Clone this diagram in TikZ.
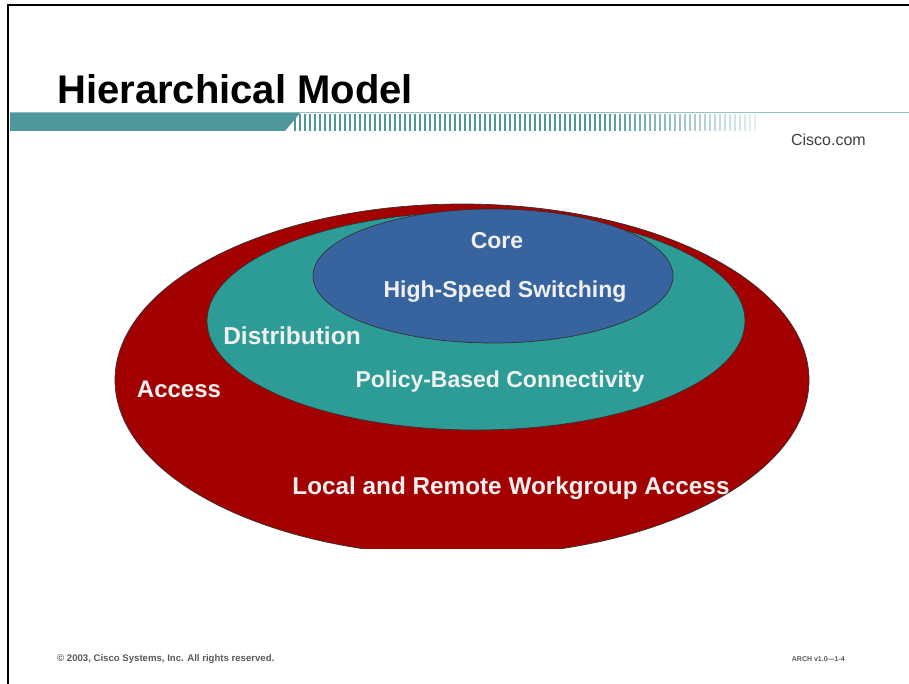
\documentclass[tikz,border=0pt]{standalone}
\usepackage{fontspec}
\setmainfont{Liberation Sans}
\usetikzlibrary{shapes}

\definecolor{accessred}{HTML}{A30000}
\definecolor{distteal}{HTML}{2E9C96}
\definecolor{corebblue}{HTML}{37649F}
\definecolor{barteal}{HTML}{4E989C}

\begin{document}
\begin{tikzpicture}[x=1pt,y=-1pt,
    layer/.style={draw=black!80,line width=0.7pt},
    lbl/.style={text=white!94!black,font=\bfseries\fontsize{23}{26}\selectfont,inner sep=0pt}]
  \useasboundingbox[fill=white] (0,0) rectangle (909,684);

  % slide frame
  \draw[line width=2pt] (8,684) -- (8,5) -- (909,5);

  % title bar
  \draw[barteal!60,line width=1pt] (10,113) -- (909,113);
  \fill[barteal] (10,113) -- (300,113) -- (285,131) -- (10,131) -- cycle;
  \foreach \x in {295,300,...,755}{
    \pgfmathsetmacro{\p}{\x<600 ? 100 : 100-(\x-600)*0.55}
    \draw[barteal!\p!white,line width=1.6pt] (\x,114) -- (\x,131);
  }
  \node[anchor=base west,inner sep=0pt,font=\bfseries\fontsize{40}{44}\selectfont](Title) at (57,104) {Hierarchical Model};
  \node[anchor=base east,inner sep=0pt,text=black!75,font=\fontsize{16}{18}\selectfont](Web) at (866,146) {Cisco.com};

  % nested ellipses
  \begin{scope}
    \clip (0,0) rectangle (909,548);
    \filldraw[layer,fill=accessred] (462,380) ellipse [x radius=347,y radius=176];
  \end{scope}
  \filldraw[layer,fill=distteal] (476,321) ellipse [x radius=269,y radius=109];
  \filldraw[layer,fill=corebblue] (493,276) ellipse [x radius=180,y radius=67];

  % labels
  \node[lbl](Core) at (497,241) {Core};
  \node[lbl](Switch) at (505,292) {High-Speed Switching};
  \node[lbl,font=\bfseries\fontsize{24.5}{26}\selectfont](Dist) at (292,336) {Distribution};
  \node[lbl](Policy) at (500,382) {Policy-Based Connectivity};
  \node[lbl,font=\bfseries\fontsize{24}{26}\selectfont](Access) at (179,389) {Access};
  \node[lbl,font=\bfseries\fontsize{24.3}{26}\selectfont](Local) at (511,488) {Local and Remote Workgroup Access};

  % footer
  \node[anchor=base west,inner sep=0pt,text=black!65,font=\bfseries\fontsize{9.6}{11}\selectfont](Copy) at (57,661) {© 2003, Cisco Systems, Inc. All rights reserved.};
  \node[anchor=base east,inner sep=0pt,text=black!65,font=\bfseries\fontsize{7}{9}\selectfont](Ref) at (845,661) {ARCH v1.0—1-4};
\end{tikzpicture}
\end{document}
